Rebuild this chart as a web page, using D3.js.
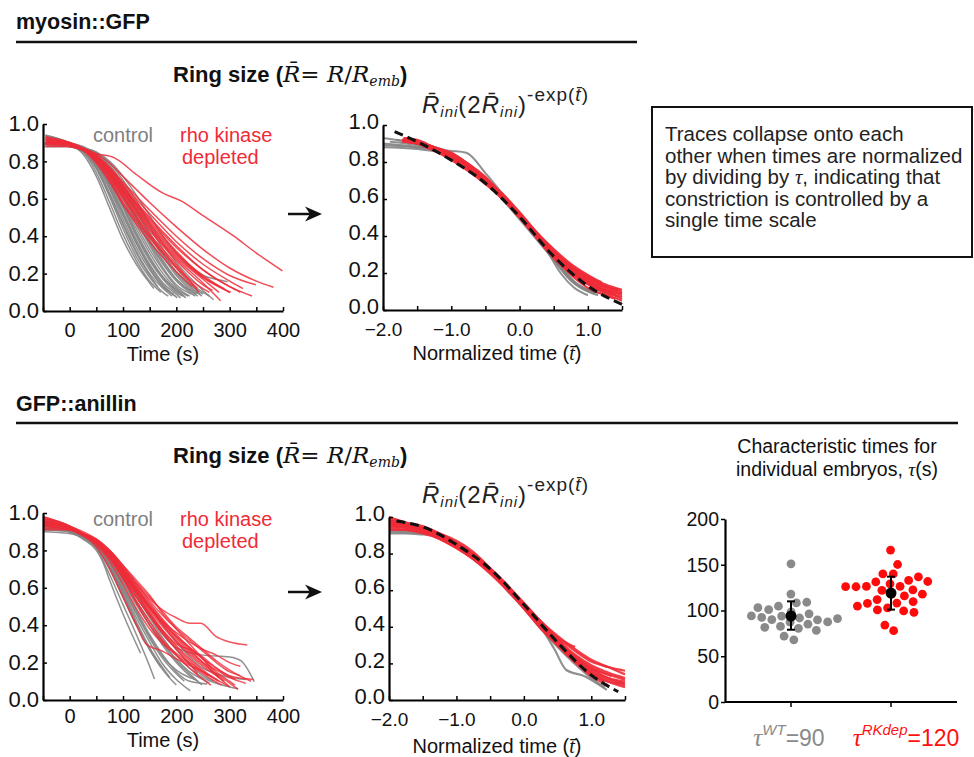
<!DOCTYPE html>
<html><head><meta charset="utf-8">
<script src="https://cdn.jsdelivr.net/npm/d3@7"></script>
<style>
body{margin:0;background:#fff;}
svg{display:block;}
text{font-family:"Liberation Sans",Arial,sans-serif;}
</style></head><body>
<svg id="fig" width="974" height="757"></svg>
<script>
// ---------------- DATA ----------------
// Each trace: flat list of [time, ring size] pairs
const myoRawCtrl = [
 [-45,.92, 0,.89, 25,.84, 50,.72, 75,.55, 100,.38, 125,.25, 150,.15, 158,.12],
 [-47,.90, 0,.88, 25,.85, 50,.74, 75,.58, 100,.41, 125,.27, 150,.16, 171,.10],
 [-45,.93, 0,.89, 25,.85, 50,.76, 75,.61, 100,.44, 125,.29, 150,.18, 175,.10, 185,.08],
 [-44,.91, 0,.89, 25,.86, 50,.77, 75,.63, 100,.47, 125,.32, 150,.20, 175,.12, 192,.08],
 [-46,.89, 0,.88, 25,.86, 50,.78, 75,.65, 100,.49, 125,.34, 150,.22, 175,.13, 198,.08],
 [-45,.94, 0,.90, 25,.86, 50,.79, 75,.66, 100,.51, 125,.36, 150,.24, 175,.14, 202,.07],
 [-43,.90, 0,.89, 25,.86, 50,.79, 75,.68, 100,.53, 125,.38, 150,.25, 175,.15, 200,.09, 208,.07],
 [-45,.92, 0,.90, 25,.87, 50,.80, 75,.69, 100,.55, 125,.40, 150,.27, 175,.17, 200,.10, 212,.08],
 [-48,.88, 0,.88, 25,.86, 50,.81, 75,.70, 100,.57, 125,.42, 150,.29, 175,.18, 200,.11, 218,.07],
 [-45,.91, 0,.89, 25,.87, 50,.81, 75,.71, 100,.58, 125,.44, 150,.31, 175,.20, 200,.12, 222,.08],
 [-45,.93, 0,.90, 25,.87, 50,.82, 75,.72, 100,.60, 125,.46, 150,.33, 175,.22, 200,.13, 225,.08],
 [-42,.89, 0,.88, 25,.86, 50,.82, 75,.73, 100,.61, 125,.48, 150,.35, 175,.23, 200,.14, 228,.09],
 [-45,.90, 0,.89, 25,.87, 50,.83, 75,.74, 100,.62, 125,.49, 150,.36, 175,.25, 200,.16, 225,.10, 235,.08],
 [-46,.92, 0,.90, 25,.87, 50,.83, 75,.75, 100,.64, 125,.51, 150,.38, 175,.27, 200,.17, 225,.11, 240,.08],
 [-45,.89, 0,.88, 25,.87, 50,.83, 75,.76, 100,.65, 125,.53, 150,.40, 175,.29, 200,.19, 225,.12, 245,.09],
 [-44,.91, 0,.89, 25,.87, 50,.84, 75,.77, 100,.67, 125,.55, 150,.42, 175,.31, 200,.21, 225,.14, 250,.09],
 [-45,.93, 0,.90, 25,.88, 50,.84, 75,.78, 100,.68, 125,.57, 150,.45, 175,.33, 200,.23, 225,.15, 250,.10, 262,.08],
 [-47,.90, 0,.89, 25,.87, 50,.85, 75,.79, 100,.70, 125,.59, 150,.47, 175,.36, 200,.26, 225,.18, 250,.11, 270,.06],
 [-45,.91, 0,.89, 25,.87, 50,.85, 75,.80, 100,.72, 125,.62, 150,.51, 175,.40, 200,.31, 225,.24, 250,.19, 275,.17, 296,.157],
 [-45,.92, 0,.90, 25,.86, 50,.77, 75,.62, 100,.46, 125,.31, 150,.19, 165,.13],
 [-45,.90, 0,.88, 25,.86, 50,.80, 75,.67, 100,.52, 125,.37, 150,.23, 175,.13, 195,.09],
 [-46,.94, 0,.90, 25,.87, 50,.81, 75,.70, 100,.56, 125,.41, 150,.28, 175,.18, 200,.11, 215,.08],
 [-45,.88, 0,.88, 25,.86, 50,.82, 75,.74, 100,.63, 125,.50, 150,.37, 175,.26, 200,.17, 225,.11, 238,.09],
 [-45,.92, 0,.89, 25,.87, 50,.84, 75,.76, 100,.66, 125,.54, 150,.41, 175,.30, 200,.20, 225,.13, 248,.08]
];
const myoRawRK = [
 [-40,.91, 0,.89, 25,.86, 50,.84, 83,.82, 125,.73, 175,.63, 208,.59, 250,.51, 308,.40, 350,.31, 399,.215],
 [-45,.91, 0,.89, 25,.87, 50,.84, 75,.79, 100,.72, 150,.58, 200,.45, 250,.33, 300,.23, 350,.16, 382,.127],
 [-43,.90, 0,.89, 25,.87, 50,.83, 75,.77, 100,.69, 150,.54, 200,.40, 250,.28, 300,.19, 349,.14],
 [-45,.92, 0,.90, 25,.87, 50,.83, 75,.76, 100,.67, 150,.50, 200,.35, 250,.22, 300,.13, 342,.08],
 [-44,.89, 0,.88, 25,.86, 50,.82, 75,.75, 100,.66, 150,.48, 200,.32, 250,.18, 302,.10],
 [-45,.91, 0,.89, 25,.86, 50,.81, 75,.73, 100,.63, 150,.44, 200,.28, 250,.15, 283,.055],
 [-45,.93, 0,.90, 25,.87, 50,.82, 75,.74, 100,.64, 150,.45, 200,.29, 250,.17, 280,.10],
 [-46,.90, 0,.89, 25,.86, 50,.81, 75,.72, 100,.61, 150,.41, 200,.25, 242,.10],
 [-45,.88, 0,.88, 25,.86, 50,.82, 75,.74, 100,.65, 150,.47, 200,.31, 250,.19, 300,.098],
 [-45,.92, 0,.89, 25,.86, 50,.80, 75,.71, 100,.60, 150,.40, 200,.24, 225,.17, 250,.12, 262,.10],
 [-44,.91, 0,.90, 25,.87, 50,.82, 75,.75, 100,.66, 150,.49, 200,.34, 250,.22, 300,.13, 320,.10],
 [-45,.90, 0,.89, 25,.86, 50,.79, 75,.69, 100,.57, 150,.37, 200,.21, 230,.13],
 [-45,.93, 0,.90, 25,.87, 50,.83, 75,.76, 100,.68, 150,.52, 200,.37, 250,.25, 300,.16, 325,.12],
 [-47,.89, 0,.89, 25,.86, 50,.81, 75,.73, 100,.62, 150,.43, 200,.27, 250,.14, 268,.11],
 [-45,.91, 0,.89, 25,.87, 50,.82, 75,.74, 100,.64, 150,.46, 200,.30, 250,.18, 290,.12],
 [-45,.90, 0,.89, 25,.86, 50,.80, 75,.70, 100,.58, 150,.39, 200,.23, 240,.12]
];
const myoNormCtrl = [
 [-2.0,.93, -1.5,.90, -1.0,.85, -0.5,.70, 0,.50, 0.5,.28, 0.8,.15, 1.1,.09],
 [-2.0,.89, -1.5,.88, -1.0,.86, -0.78,.85, -0.5,.74, 0,.51, 0.4,.32, 0.6,.20, 0.8,.12, 1.0,.08],
 [-2.0,.88, -1.5,.87, -1.0,.84, -0.5,.70, 0,.49, 0.5,.27, 0.75,.16, 1.0,.10, 1.15,.08],
 [-1.9,.91, -1.5,.89, -1.0,.83, -0.5,.69, 0,.50, 0.5,.30, 1.0,.14, 1.4,.08],
 [-2.0,.90, -1.5,.88, -1.0,.84, -0.5,.71, 0,.50, 0.45,.30, 0.7,.18, 0.9,.12, 1.1,.10],
 [-1.8,.92, -1.4,.89, -1.0,.84, -0.5,.70, 0,.50, 0.5,.28, 0.85,.14, 1.2,.09]
];
const myoNormRK = [
 [-1.72,.92, -1.5,.91, -1.25,.88, -1.0,.84, -0.75,.78, -0.5,.71, -0.25,.62, 0,.52, 0.25,.41, 0.5,.31, 0.75,.23, 1.0,.17, 1.25,.13, 1.5,.10],
 [-1.70,.93, -1.5,.91, -1.25,.87, -1.0,.83, -0.75,.77, -0.5,.70, -0.25,.61, 0,.51, 0.25,.40, 0.5,.30, 0.75,.21, 1.0,.15, 1.25,.10, 1.5,.07],
 [-1.68,.91, -1.5,.90, -1.25,.87, -1.0,.82, -0.75,.76, -0.5,.69, -0.25,.60, 0,.50, 0.25,.39, 0.5,.29, 0.75,.20, 1.0,.14, 1.25,.09, 1.5,.05],
 [-1.72,.92, -1.5,.90, -1.25,.86, -1.0,.82, -0.75,.76, -0.5,.70, -0.25,.61, 0,.51, 0.25,.41, 0.5,.32, 0.75,.24, 1.0,.18, 1.25,.14, 1.5,.11],
 [-1.65,.92, -1.5,.91, -1.25,.88, -1.0,.84, -0.75,.79, -0.5,.72, -0.25,.62, 0,.51, 0.25,.40, 0.5,.29, 0.75,.19, 1.0,.12, 1.25,.08, 1.4,.06],
 [-1.70,.91, -1.5,.90, -1.25,.87, -1.0,.83, -0.75,.77, -0.5,.70, -0.25,.61, 0,.52, 0.25,.42, 0.5,.33, 0.75,.25, 1.0,.19, 1.2,.15],
 [-1.70,.92, -1.5,.91, -1.25,.88, -1.0,.83, -0.75,.77, -0.5,.69, -0.25,.60, 0,.50, 0.25,.40, 0.5,.30, 0.75,.22, 1.0,.16, 1.25,.11, 1.5,.08],
 [-1.66,.93, -1.5,.92, -1.25,.88, -1.0,.84, -0.75,.78, -0.5,.71, -0.25,.63, 0,.53, 0.25,.42, 0.5,.31, 0.75,.22, 1.0,.15, 1.25,.11, 1.5,.09],
 [-1.72,.91, -1.5,.90, -1.25,.86, -1.0,.81, -0.75,.75, -0.5,.68, -0.25,.60, 0,.51, 0.25,.41, 0.5,.31, 0.75,.23, 1.0,.17, 1.3,.12],
 [-1.70,.92, -1.5,.91, -1.25,.87, -1.0,.84, -0.75,.79, -0.5,.71, -0.25,.61, 0,.50, 0.25,.39, 0.5,.28, 0.75,.20, 1.0,.14, 1.25,.10, 1.5,.06],
 [-1.68,.92, -1.5,.90, -1.25,.87, -1.0,.83, -0.75,.78, -0.5,.71, -0.25,.62, 0,.52, 0.25,.42, 0.5,.32, 0.75,.24, 1.0,.18, 1.25,.13, 1.45,.11],
 [-1.70,.93, -1.5,.91, -1.25,.88, -1.0,.85, -0.75,.79, -0.5,.71, -0.25,.62, 0,.51, 0.25,.40, 0.5,.30, 0.75,.22, 1.0,.16, 1.25,.12, 1.5,.09]
];
const myoFit = [-1.83,.964, -1.5,.91, -1.0,.81, -0.5,.685, 0,.504, 0.5,.29, 1.0,.13, 1.5,.03];

const anilRawCtrl = [
 [-50,.93, 0,.90, 25,.86, 50,.80, 62,.74, 75,.64, 100,.46, 133,.25],
 [-50,.95, 0,.91, 25,.87, 50,.81, 75,.67, 100,.51, 125,.35, 150,.18, 159,.112],
 [-50,.92, 0,.90, 25,.87, 50,.82, 75,.70, 100,.55, 125,.40, 150,.27, 175,.16, 200,.08],
 [-50,.94, 0,.91, 25,.88, 50,.83, 75,.72, 100,.58, 125,.44, 150,.31, 175,.19, 200,.11, 226,.05],
 [-50,.91, 0,.90, 25,.87, 50,.83, 75,.74, 100,.61, 125,.48, 150,.35, 175,.24, 200,.15, 225,.10, 258,.086],
 [-50,.96, 0,.92, 25,.88, 50,.84, 75,.75, 100,.63, 125,.51, 150,.40, 175,.30, 200,.22, 225,.15, 250,.11, 262,.09],
 [-50,.93, 0,.91, 25,.88, 50,.84, 75,.77, 100,.66, 125,.55, 150,.45, 175,.35, 200,.28, 250,.24, 300,.23, 321,.21, 346,.098],
 [-50,.92, 0,.90, 25,.87, 50,.82, 75,.71, 100,.57, 125,.42, 150,.28, 175,.17, 188,.12],
 [-50,.94, 0,.91, 25,.87, 50,.82, 75,.72, 100,.59, 125,.46, 150,.33, 175,.22, 200,.14, 215,.10],
 [-50,.90, 0,.89, 25,.87, 50,.83, 75,.75, 100,.64, 125,.52, 150,.40, 175,.29, 200,.20, 225,.13, 240,.10],
 [-50,.93, 0,.91, 25,.88, 50,.85, 75,.78, 100,.68, 125,.57, 150,.46, 175,.36, 200,.27, 225,.19, 250,.13, 270,.10],
 [-50,.95, 0,.92, 25,.88, 50,.84, 75,.76, 100,.65, 125,.53, 150,.42, 175,.31, 200,.21, 225,.14, 248,.08],
 [-50,.92, 0,.90, 25,.87, 50,.82, 75,.73, 100,.60, 125,.47, 150,.34, 175,.23, 200,.16, 225,.12, 235,.11],
 [-50,.91, 0,.90, 25,.87, 50,.84, 75,.77, 100,.67, 125,.56, 150,.44, 175,.33, 200,.24, 225,.17, 250,.12, 275,.09, 300,.07, 315,.06],
 [-50,.97, 0,.92, 25,.88, 50,.83, 75,.71, 100,.56, 125,.41, 150,.27, 170,.18],
 [-50,.93, 0,.91, 25,.88, 50,.85, 75,.79, 100,.70, 125,.60, 150,.50, 175,.40, 200,.31, 225,.23, 250,.17, 275,.14, 300,.12, 330,.11]
];
const anilRawRK = [
 [-50,.95, 0,.92, 25,.89, 50,.86, 75,.80, 100,.71, 125,.62, 150,.54, 175,.48, 200,.44, 225,.41, 246,.41, 274,.34, 300,.31, 333,.294],
 [-50,.97, 0,.93, 25,.89, 50,.85, 75,.78, 100,.69, 125,.59, 150,.49, 175,.40, 200,.32, 225,.25, 250,.19, 275,.14, 300,.09, 316,.057],
 [-50,.94, 0,.92, 25,.89, 50,.85, 75,.77, 100,.68, 125,.58, 150,.48, 175,.39, 200,.31, 225,.24, 250,.18, 275,.13, 300,.07],
 [-50,.98, 0,.93, 25,.89, 50,.84, 75,.76, 100,.66, 125,.55, 150,.45, 175,.36, 200,.28, 225,.21, 250,.15, 277,.107],
 [-50,.93, 0,.91, 25,.88, 50,.85, 75,.78, 100,.70, 125,.61, 150,.52, 175,.43, 200,.35, 225,.28, 250,.22, 275,.17, 300,.13, 345,.11],
 [-50,.96, 0,.92, 25,.88, 50,.84, 75,.77, 100,.67, 125,.57, 150,.47, 175,.37, 200,.29, 225,.22, 250,.16, 275,.11, 300,.07],
 [-50,.92, 0,.91, 25,.88, 50,.84, 75,.76, 100,.65, 125,.53, 150,.42, 175,.32, 200,.24, 225,.17, 250,.11, 265,.08],
 [-50,.95, 0,.92, 25,.89, 50,.85, 75,.79, 100,.71, 125,.62, 150,.53, 175,.45, 200,.38, 225,.32, 250,.26, 275,.20, 300,.15, 320,.13],
 [-50,.97, 0,.93, 25,.89, 50,.84, 75,.76, 100,.66, 125,.55, 150,.45, 175,.35, 200,.27, 220,.21, 240,.14],
 [-50,.94, 0,.92, 25,.88, 50,.83, 75,.74, 100,.62, 125,.49, 150,.38, 175,.30, 200,.24, 225,.19, 250,.14, 285,.08],
 [-50,.93, 0,.91, 25,.89, 50,.85, 75,.79, 100,.70, 125,.60, 150,.50, 175,.41, 200,.33, 225,.26, 250,.20, 275,.16, 300,.12, 330,.09],
 [-50,.96, 0,.93, 25,.90, 50,.86, 75,.80, 100,.72, 125,.63, 150,.55, 175,.47, 200,.39, 225,.33, 250,.27, 275,.21, 300,.16, 340,.10],
 [-50,.95, 0,.92, 25,.88, 50,.84, 75,.77, 100,.68, 125,.58, 150,.49, 175,.41, 200,.34, 225,.28, 250,.23, 275,.17, 310,.11],
 [-50,.91, 0,.91, 25,.88, 50,.85, 75,.78, 100,.68, 125,.57, 150,.46, 175,.37, 200,.30, 225,.27, 250,.22, 270,.15, 290,.10],
 [-50,.98, 0,.93, 25,.89, 50,.85, 75,.78, 100,.69, 125,.59, 150,.50, 175,.42, 200,.36, 225,.31, 250,.27, 275,.24, 300,.20, 320,.18],
 [-50,.94, 0,.92, 25,.89, 50,.86, 75,.80, 100,.72, 125,.64, 150,.56, 175,.46, 200,.38, 225,.30, 250,.22, 275,.15, 300,.10, 310,.08],
 [-50,.96, 0,.92, 25,.88, 50,.84, 75,.76, 100,.65, 125,.52, 150,.40, 175,.31, 200,.25, 225,.20, 260,.13],
 [-50,.93, 0,.91, 25,.88, 50,.84, 75,.77, 100,.69, 125,.60, 150,.51, 175,.42, 200,.34, 225,.27, 250,.20, 280,.12],
 [-50,.95, 0,.92, 25,.88, 50,.82, 75,.70, 100,.55, 125,.40, 143,.30, 175,.26, 200,.22, 250,.15, 280,.10]
];
const anilNormCtrl = [
 [-2.0,.91, -1.75,.91, -1.5,.905, -1.3,.90, -1.0,.85, -0.75,.78, -0.5,.70, -0.25,.61, 0,.51, 0.25,.40, 0.45,.28, 0.63,.164, 0.9,.13, 1.23,.055],
 [-2.0,.92, -1.5,.91, -1.25,.89, -1.0,.84, -0.75,.77, -0.5,.70, -0.25,.62, 0,.52, 0.25,.41, 0.5,.30, 0.75,.21, 1.0,.14, 1.25,.10, 1.49,.09],
 [-2.0,.93, -1.5,.92, -1.25,.89, -1.0,.84, -0.75,.78, -0.5,.71, -0.25,.60, 0,.50, 0.25,.39, 0.5,.29, 0.75,.20, 1.0,.12, 1.2,.07]
];
const anilNormRK = [
 [-2.0,1.0, -1.75,.97, -1.5,.94, -1.25,.90, -1.0,.85, -0.75,.79, -0.5,.71, -0.25,.62, 0,.52, 0.25,.42, 0.5,.33, 0.75,.25, 1.0,.19, 1.25,.15, 1.5,.12],
 [-2.0,.97, -1.75,.95, -1.5,.93, -1.25,.89, -1.0,.84, -0.75,.78, -0.5,.70, -0.25,.61, 0,.51, 0.25,.41, 0.5,.32, 0.75,.24, 1.0,.17, 1.25,.12, 1.5,.09],
 [-2.0,.95, -1.75,.94, -1.5,.92, -1.25,.89, -1.0,.85, -0.75,.79, -0.5,.71, -0.25,.62, 0,.52, 0.25,.42, 0.5,.32, 0.75,.22, 1.0,.14, 1.2,.10],
 [-2.0,.93, -1.75,.93, -1.5,.92, -1.25,.90, -1.0,.86, -0.75,.80, -0.5,.72, -0.25,.63, 0,.53, 0.25,.43, 0.5,.34, 0.75,.27, 1.0,.21, 1.25,.18, 1.5,.16],
 [-2.0,.98, -1.75,.96, -1.5,.93, -1.25,.89, -1.0,.84, -0.75,.77, -0.5,.69, -0.25,.60, 0,.50, 0.25,.40, 0.5,.30, 0.75,.21, 1.0,.13, 1.25,.08],
 [-2.0,.96, -1.75,.95, -1.5,.93, -1.25,.91, -1.0,.87, -0.75,.81, -0.5,.72, -0.25,.62, 0,.51, 0.25,.42, 0.5,.34, 0.76,.29],
 [-2.0,.99, -1.75,.97, -1.5,.95, -1.25,.91, -1.0,.86, -0.75,.79, -0.5,.70, -0.25,.61, 0,.51, 0.25,.41, 0.5,.31, 0.75,.23, 1.0,.16, 1.25,.12, 1.5,.10],
 [-2.0,.94, -1.75,.93, -1.5,.91, -1.25,.88, -1.0,.83, -0.75,.77, -0.5,.70, -0.25,.61, 0,.51, 0.25,.41, 0.5,.31, 0.75,.23, 1.0,.15, 1.25,.10, 1.5,.07],
 [-2.0,.97, -1.75,.96, -1.5,.94, -1.25,.90, -1.0,.85, -0.75,.78, -0.5,.70, -0.25,.61, 0,.52, 0.25,.43, 0.5,.35, 0.75,.28, 1.0,.22, 1.25,.18, 1.5,.14],
 [-2.0,.95, -1.75,.94, -1.5,.92, -1.25,.88, -1.0,.83, -0.75,.77, -0.5,.70, -0.25,.62, 0,.53, 0.25,.43, 0.5,.33, 0.75,.24, 1.0,.18, 1.3,.13],
 [-2.0,.96, -1.75,.95, -1.5,.94, -1.25,.91, -1.0,.86, -0.75,.80, -0.5,.72, -0.25,.63, 0,.52, 0.25,.41, 0.5,.30, 0.75,.21, 1.0,.15, 1.25,.11, 1.5,.08],
 [-2.0,.98, -1.75,.96, -1.5,.93, -1.25,.89, -1.0,.85, -0.75,.79, -0.5,.71, -0.25,.61, 0,.50, 0.25,.39, 0.5,.30, 0.75,.23, 1.0,.17, 1.25,.14, 1.5,.11]
];
const anilFit = [-1.89,.978, -1.49,.945, -0.98,.845, -0.48,.71, 0.01,.518, 0.51,.31, 1.0,.136, 1.4,.045];

// Characteristic times tau (s) for individual embryos
const tauWT = [91,91,91,92,102,94,81,102,88,68,151,101,88,72,108,118,91,82,109,96,83,94,83,88,92];
const tauRK = [166,150,140,140,136,132,128,126,125,126,126,126,127,132,122,118,118,118,112,110,105,108,102,98,100,108,103,84,78];
const tauGroups = ["WT","RKdep"];
const tauMean = [94,119];
const tauErrLo = [79,101];
const tauErrHi = [110,137];

const rawTicks = [0,100,200,300,400];
const rawMinorTicks = [-50,0,50,100,150,200,250,300,350,400];
const normTicks = [-2,-1,0,1];
const normMinorTicks = [-2,-1.5,-1,-0.5,0,0.5,1,1.5];
const sizeTicks = [0,0.2,0.4,0.6,0.8,1.0];
const tauTicks = [0,50,100,150,200];

const boxLines = ["Traces collapse onto each","other when times are normalized","by dividing by \u03C4, indicating that","constriction is controlled by a","single time scale"];

// ---------------- DRAWING ----------------
const GRAY = "#848484", RED = "#ef2b37", DOT_GRAY = "#8a8a8a", DOT_RED = "#ff0a0a";
const SERIF = '"Liberation Serif","Times New Roman",serif';
const MATH = '"DejaVu Serif","Liberation Serif",serif';
const SANS = '"Liberation Sans",Arial,sans-serif';
const svg = d3.select("#fig");
const pts = a => { const p = []; for (let i = 0; i < a.length; i += 2) p.push([a[i], a[i+1]]); return p; };

function panel(o) {
  const x = d3.scaleLinear().domain(o.xd).range(o.xr);
  const y = d3.scaleLinear().domain([0,1]).range(o.yr);
  const g = svg.append("g");
  const line = d3.line().x(d => x(d[0])).y(d => y(d[1])).curve(d3.curveMonotoneX);
  g.append("g").selectAll("path").data(o.ctrl).join("path")
    .attr("d", d => line(pts(d))).attr("fill","none").attr("stroke",GRAY)
    .attr("stroke-width",o.lw).attr("stroke-opacity",0.9);
  g.append("g").selectAll("path").data(o.rk).join("path")
    .attr("d", d => line(pts(d))).attr("fill","none").attr("stroke",RED)
    .attr("stroke-width",o.lw).attr("stroke-opacity",o.ro);
  if (o.fit) {
    g.append("path").attr("d", line(pts(o.fit))).attr("fill","none")
      .attr("stroke","#111").attr("stroke-width",3).attr("stroke-dasharray","9,5");
  }
  const xa = d3.axisBottom(x).tickValues(o.minor).tickSizeInner(-4).tickSizeOuter(0)
    .tickPadding(o.xpad).tickFormat(d => o.major.includes(d) ? o.fmt(d) : "");
  const gx = g.append("g").attr("transform",`translate(0,${o.yr[0]})`).call(xa);
  gx.selectAll("text").attr("font-size",o.xfs).attr("font-family",SANS).attr("fill","#111");
  const ya = d3.axisLeft(y).tickValues(sizeTicks).tickSizeInner(-4).tickSizeOuter(0)
    .tickPadding(4).tickFormat(d3.format(".1f"));
  const gy = g.append("g").attr("transform",`translate(${o.xr[0]},0)`).call(ya);
  gy.selectAll("text").attr("font-size",22).attr("font-family",SANS).attr("fill","#111").attr("dy",o.ydy);
  [gx,gy].forEach(a => { a.select(".domain").attr("stroke","#000").attr("stroke-width",2.2);
    a.selectAll(".tick line").attr("stroke","#000").attr("stroke-width",1.5); });
  g.append("text").attr("x",o.titleX).attr("y",o.titleY).attr("text-anchor","middle")
    .attr("font-size",20).attr("fill","#111").each(function(){
      const t = d3.select(this);
      if (o.norm) {
        t.append("tspan").text("Normalized time (");
        t.append("tspan").attr("font-family",SERIF).attr("font-style","italic").text("t\u0304");
        t.append("tspan").text(")");
      } else t.text("Time (s)");
    });
  return {x,y};
}

const rawFmt = d => d3.format("d")(d);
const normFmt = d => d3.format(".1f")(d);

panel({xd:[-50,400], xr:[43,283], yr:[311,124], ctrl:myoRawCtrl, rk:myoRawRK, lw:1.5, ro:0.85, ydy:"0.3em",
  minor:rawMinorTicks, major:rawTicks, fmt:rawFmt, xpad:12, xfs:20, titleX:163, titleY:361});
panel({xd:[-2,1.5], xr:[383,622], yr:[310,125], ctrl:myoNormCtrl, rk:myoNormRK, lw:2, ro:0.95, fit:myoFit, norm:true, ydy:"0.17em",
  minor:normMinorTicks, major:normTicks, fmt:normFmt, xpad:12.5, xfs:19, titleX:497, titleY:360});
panel({xd:[-50,400], xr:[43,283], yr:[700,513], ctrl:anilRawCtrl, rk:anilRawRK, lw:1.5, ro:0.8, ydy:"0.3em",
  minor:rawMinorTicks, major:rawTicks, fmt:rawFmt, xpad:9, xfs:20, titleX:163, titleY:747});
panel({xd:[-2,1.5], xr:[389,625], yr:[700,517], ctrl:anilNormCtrl, rk:anilNormRK, lw:2.2, ro:0.9, fit:anilFit, norm:true, ydy:"0.17em",
  minor:normMinorTicks, major:normTicks, fmt:normFmt, xpad:12.5, xfs:19, titleX:497, titleY:753});

// legends in raw panels
[[142,164],[526,548]].forEach(([b1,b2]) => {
  svg.append("text").attr("x",93).attr("y",b1).attr("font-size",20).attr("fill","#808080").text("control");
  svg.append("text").attr("x",180).attr("y",b1).attr("font-size",20).attr("fill",RED).text("rho kinase");
  svg.append("text").attr("x",182).attr("y",b2).attr("font-size",20).attr("fill",RED).text("depleted");
});

// section headers
svg.append("text").attr("x",16).attr("y",29).attr("font-size",21.5).attr("font-weight","bold").attr("fill","#111").text("myosin::GFP");
svg.append("line").attr("x1",16).attr("x2",637).attr("y1",42).attr("y2",42).attr("stroke","#111").attr("stroke-width",2.5);
svg.append("text").attr("x",16).attr("y",411).attr("font-size",21.5).attr("font-weight","bold").attr("fill","#111").text("GFP::anillin");
svg.append("line").attr("x1",16).attr("x2",958).attr("y1",423).attr("y2",423).attr("stroke","#111").attr("stroke-width",2.5);

// "Ring size" titles
function ringTitle(yb) {
  const t = svg.append("text").attr("x",173).attr("y",yb).attr("fill","#111");
  t.append("tspan").attr("font-size",22).attr("font-weight","bold").text("Ring size (");
  t.append("tspan").attr("font-family",MATH).attr("font-style","italic").attr("font-size",23).text("R\u0304");
  t.append("tspan").attr("font-family",MATH).attr("font-size",23).text("= ");
  t.append("tspan").attr("font-family",MATH).attr("font-style","italic").attr("font-size",23).text("R");
  t.append("tspan").attr("font-family",MATH).attr("font-size",23).text("/");
  t.append("tspan").attr("font-family",MATH).attr("font-style","italic").attr("font-size",23).text("R");
  t.append("tspan").attr("font-family",MATH).attr("font-style","italic").attr("font-size",14).attr("dy",4).text("emb");
  t.append("tspan").attr("font-size",22).attr("font-weight","bold").attr("dy",-4).text(")");
}
ringTitle(82); ringTitle(463);

// formula labels
function formula(xs, yb) {
  const t = svg.append("text").attr("x",xs).attr("y",yb).attr("fill","#222").attr("font-family",MATH)
    .attr("font-size",24).attr("letter-spacing",1);
  t.append("tspan").attr("font-style","italic").text("R\u0304");
  t.append("tspan").attr("font-style","italic").attr("font-size",15).attr("dy",4).text("ini");
  t.append("tspan").attr("dy",-4).text("(2");
  t.append("tspan").attr("font-style","italic").text("R\u0304");
  t.append("tspan").attr("font-style","italic").attr("font-size",15).attr("dy",4).text("ini");
  t.append("tspan").attr("dy",-4).text(")");
  t.append("tspan").attr("font-size",19).attr("dy",-12).text("-exp(");
  t.append("tspan").attr("font-size",19).attr("font-style","italic").text("t\u0304");
  t.append("tspan").attr("font-size",19).text(")");
}
formula(422,113); formula(422,503);

// arrows
[214,592].forEach(yc => {
  svg.append("line").attr("x1",288).attr("x2",311).attr("y1",yc).attr("y2",yc).attr("stroke","#111").attr("stroke-width",2.5);
  svg.append("path").attr("d",`M322,${yc} L305,${yc-7.5} L310,${yc} L305,${yc+7.5} Z`).attr("fill","#111");
});

// text box
svg.append("rect").attr("x",652).attr("y",107).attr("width",320).attr("height",150)
  .attr("fill","none").attr("stroke","#111").attr("stroke-width",2);
boxLines.forEach((s,i) => {
  const t = svg.append("text").attr("x",665).attr("y",141 + i*21.6).attr("font-size",20.5).attr("fill","#222");
  if (s.includes("\u03C4")) {
    const [a,b] = s.split("\u03C4");
    t.append("tspan").text(a);
    t.append("tspan").attr("font-family",SERIF).attr("font-style","italic").text("\u03C4");
    t.append("tspan").text(b);
  } else t.text(s);
});

// ---- tau dot plot ----
const ty = d3.scaleLinear().domain([0,200]).range([702,519]);
const tx = d3.scalePoint().domain(tauGroups).range([791,891]);
const tg = svg.append("g");
tg.append("text").attr("x",837).attr("y",453).attr("text-anchor","middle").attr("font-size",19.5).attr("fill","#111").text("Characteristic times for");
const tt = tg.append("text").attr("x",837).attr("y",476).attr("text-anchor","middle").attr("font-size",19.5).attr("fill","#111");
tt.append("tspan").text("individual embryos, ");
tt.append("tspan").attr("font-family",SERIF).attr("font-style","italic").text("\u03C4");
tt.append("tspan").text("(s)");

const yAx = tg.append("g").attr("transform","translate(725,0)")
  .call(d3.axisLeft(ty).tickValues(tauTicks).tickSizeInner(4).tickSizeOuter(0).tickPadding(2));
yAx.selectAll("text").attr("font-size",19.5).attr("font-family",SANS).attr("fill","#111");
tg.append("line").attr("x1",725).attr("x2",957).attr("y1",702).attr("y2",702).attr("stroke","#000").attr("stroke-width",2.2);
tauGroups.forEach(gname => tg.append("line").attr("x1",tx(gname)).attr("x2",tx(gname)).attr("y1",702).attr("y2",707).attr("stroke","#000").attr("stroke-width",1.5));
yAx.select(".domain").attr("stroke","#000").attr("stroke-width",2.2);
yAx.selectAll(".tick line").attr("stroke","#000").attr("stroke-width",1.5);

function swarm(vals, cx) {
  const nodes = vals.map(v => ({v, x: cx, y: ty(v), ty: ty(v)}));
  const sim = d3.forceSimulation(nodes)
    .force("x", d3.forceX(cx).strength(0.012))
    .force("y", d3.forceY(d => d.ty).strength(0.9))
    .force("c", d3.forceCollide(5.2).iterations(3)).stop();
  for (let i = 0; i < 400; i++) sim.tick();
  return nodes;
}
const sw = [swarm(tauWT, tx("WT")), swarm(tauRK, tx("RKdep"))];
tg.append("g").selectAll("circle").data(sw[0]).join("circle")
  .attr("cx",d=>d.x).attr("cy",d=>d.y).attr("r",4.4).attr("fill",DOT_GRAY);
tg.append("g").selectAll("circle").data(sw[1]).join("circle")
  .attr("cx",d=>d.x).attr("cy",d=>d.y).attr("r",4.4).attr("fill",DOT_RED);
tauGroups.forEach((gname,i) => {
  const cx = tx(gname);
  tg.append("line").attr("x1",cx).attr("x2",cx).attr("y1",ty(tauErrLo[i])).attr("y2",ty(tauErrHi[i])).attr("stroke","#000").attr("stroke-width",2);
  [tauErrLo[i],tauErrHi[i]].forEach(v => tg.append("line").attr("x1",cx-4).attr("x2",cx+4).attr("y1",ty(v)).attr("y2",ty(v)).attr("stroke","#000").attr("stroke-width",2));
  tg.append("circle").attr("cx",cx).attr("cy",ty(tauMean[i])).attr("r",5.5).attr("fill","#000");
});
const labs = [{g:"WT", sup:"WT", val:"=90", col:"#8a8a8a", dx:-2},{g:"RKdep", sup:"RKdep", val:"=120", col:"#ff1010", dx:15}];
labs.forEach(l => {
  const t = tg.append("text").attr("x",tx(l.g)+l.dx).attr("y",746).attr("text-anchor","middle").attr("fill",l.col).attr("font-size",23);
  t.append("tspan").attr("font-family",SERIF).attr("font-style","italic").attr("font-size",25).text("\u03C4");
  t.append("tspan").attr("font-style","italic").attr("font-size",15).attr("dy",-11).text(l.sup);
  t.append("tspan").attr("dy",11).text(l.val);
});
</script></body></html>
